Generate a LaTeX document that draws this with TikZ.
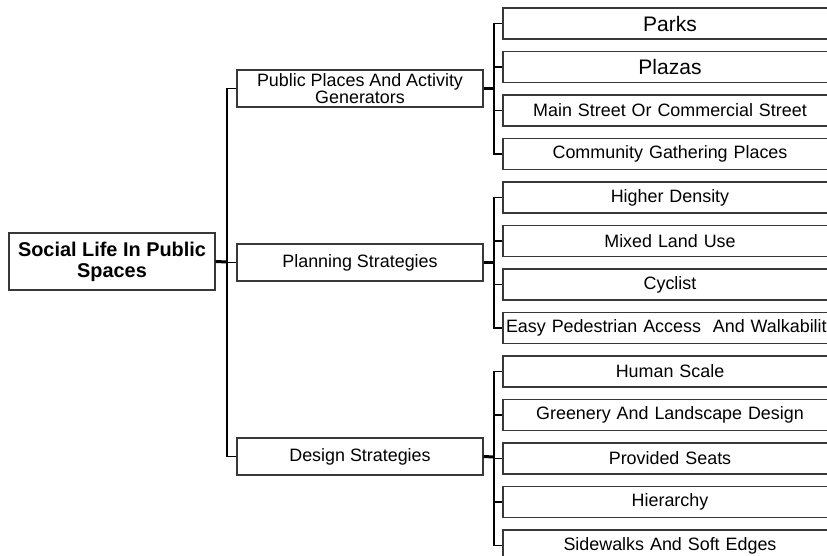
\documentclass[tikz,border=0pt]{standalone}
\usepackage{fontspec}
\setmainfont{Liberation Sans}
\usetikzlibrary{shadows}
\begin{document}
\begin{tikzpicture}[x=1pt,y=-1pt,
  basebox/.style={draw=black!78, line width=1.3pt, fill=white, align=center,
    drop shadow={shadow xshift=0.8pt, shadow yshift=-0.8pt, fill=black!35, opacity=1}},
  rootbox/.style={basebox, minimum width=206pt, minimum height=57pt, inner sep=0pt,
    font=\fontsize{19.9}{21}\selectfont\bfseries},
  midbox/.style={basebox, minimum width=246pt, minimum height=37pt, inner sep=0pt,
    font=\fontsize{17.9}{17.5}\selectfont},
  leafbox/.style={basebox, text width=328pt, inner xsep=3pt, inner ysep=0pt, minimum height=31pt,
    font=\fontsize{17.9}{17.5}\selectfont},
  bigleaf/.style={leafbox, font=\fontsize{21}{20}\selectfont},
  conn/.style={draw=black, line width=1.5pt},
  thickconn/.style={draw=black, line width=3pt}
]
\useasboundingbox (0,0) rectangle (827,556);
\clip (0,0) rectangle (827,556);

\node[rootbox] (root) at (112,261.5) {Social Life In Public\\Spaces};

\node[midbox] (m1) at (360,88.5) {Public Places And Activity\\Generators};
\node[midbox] (m2) at (360,262.5) {Planning Strategies};
\node[midbox] (m3) at (360,456.5) {Design Strategies};

\node[bigleaf] (l1) at (670,23.5) {Parks};
\node[bigleaf] (l2) at (670,67) {Plazas};
\node[leafbox] (l3) at (670,110.5) {Main Street Or Commercial Street};
\node[leafbox] (l4) at (670,154) {Community Gathering Places};
\node[leafbox] (l5) at (670,197.5) {Higher Density};
\node[leafbox] (l6) at (670,241) {Mixed Land Use};
\node[leafbox] (l7) at (670,284.5) {Cyclist};
\node[leafbox] (l8) at (670,328) {\mbox{Easy Pedestrian Access\ \ And Walkability}};
\node[leafbox] (l9) at (670,371.5) {Human Scale};
\node[leafbox] (l10) at (670,415) {Greenery And Landscape Design};
\node[leafbox] (l11) at (670,458.5) {Provided Seats};
\node[leafbox] (l12) at (670,502) {Hierarchy};
\node[leafbox] (l13) at (670,545.5) {Sidewalks And Soft Edges};

\coordinate (j0) at (227,262);
\coordinate (j1) at (494,88.5);
\coordinate (j2) at (494,262.5);
\coordinate (j3) at (494,457);

\draw[thickconn] (root.east) -- (j0);
\foreach \m in {m1,m2,m3} \draw[conn] (j0) |- (\m.west);

\draw[thickconn] (m1.east) -- (j1);
\foreach \l in {l1,l2,l3,l4} \draw[conn] (j1) |- (\l.west);
\draw[thickconn] (m2.east) -- (j2);
\foreach \l in {l5,l6,l7,l8} \draw[conn] (j2) |- (\l.west);
\draw[thickconn] (m3.east) -- (j3);
\foreach \l in {l9,l10,l11,l12,l13} \draw[conn] (j3) |- (\l.west);
\end{tikzpicture}
\end{document}
